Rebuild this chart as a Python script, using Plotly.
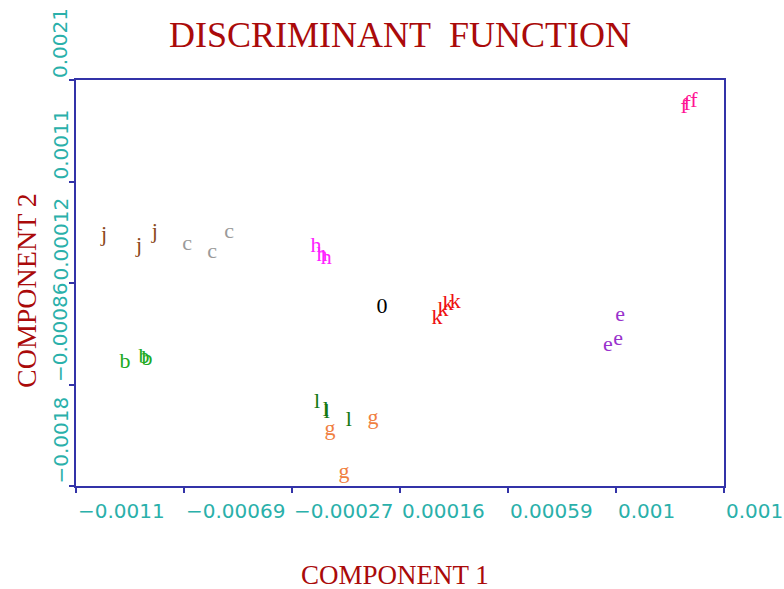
import plotly.graph_objects as go

# ---- axis ticks ----
X_TICKS = [-0.00112, -0.000693, -0.000266, 0.000161, 0.000588, 0.001015, 0.001442]
X_TICK_TEXT = ["\u22120.0011", "\u22120.00069", "\u22120.00027", "0.00016", "0.00059", "0.001", "0.0014"]
Y_TICKS = [-0.00184, -0.00086, 0.00012, 0.0011, 0.00208]
Y_TICK_TEXT = ["\u22120.0018", "\u22120.00086", "0.00012", "0.0011", "0.0021"]

# ---- data (component 1, component 2) per group letter ----
j_x = [-0.001009, -0.000871, -0.000808]
j_y = [0.000583, 0.000468, 0.000603]
c_x = [-0.000681, -0.000582, -0.000515]
c_y = [0.000487, 0.000419, 0.000612]
h_x = [-0.000171, -0.000147, -0.000131]
h_y = [0.000477, 0.000381, 0.000361]
o_x = [0.00009]
o_y = [-0.000121]
k_x = [0.000307, 0.000331, 0.000351, 0.000379]
k_y = [-0.000218, -0.00015, -0.000092, -0.000073]
e_x = [0.001031, 0.000983, 0.001023]
e_y = [-0.000189, -0.000488, -0.000421]
f_x = [0.001284, 0.001296, 0.001323]
f_y = [0.00181, 0.00184, 0.001868]
b_x = [-0.000926, -0.000851, -0.000839]
b_y = [-0.000652, -0.000604, -0.000614]
l_x = [-0.000167, -0.000132, -0.000128, -0.000041]
l_y = [-0.001029, -0.001115, -0.001135, -0.001203]
g_x = [-0.000116, 0.000054, -0.000060]
g_y = [-0.001299, -0.001193, -0.001714]

groups = [
    ("j", j_x, j_y, "#8b4a1c"),
    ("c", c_x, c_y, "#9a9a9a"),
    ("h", h_x, h_y, "#ff22ff"),
    ("0", o_x, o_y, "#000000"),
    ("k", k_x, k_y, "#ee1111"),
    ("e", e_x, e_y, "#9932cc"),
    ("f", f_x, f_y, "#ff1493"),
    ("b", b_x, b_y, "#22aa22"),
    ("l", l_x, l_y, "#117711"),
    ("g", g_x, g_y, "#f08040"),
]

fig = go.Figure()
for letter, xs, ys, col in groups:
    fig.add_trace(go.Scatter(
        x=xs, y=ys, mode="text", text=[letter] * len(xs),
        textposition="middle center",
        textfont=dict(family="Liberation Serif", size=22, color=col),
        showlegend=False, hoverinfo="skip",
    ))

AXC = "#3333a8"
TICKC = "#2ab0aa"
TITLEC = "#aa0a0a"

fig.update_xaxes(range=[X_TICKS[0], X_TICKS[-1]], tickvals=X_TICKS, showticklabels=False,
                 ticks="outside", ticklen=5, tickwidth=2, tickcolor=AXC,
                 showline=True, linecolor=AXC, linewidth=2, mirror=True,
                 showgrid=False, zeroline=False)
fig.update_yaxes(range=[Y_TICKS[0], Y_TICKS[-1]], tickvals=Y_TICKS, showticklabels=False,
                 ticks="outside", ticklen=5, tickwidth=2, tickcolor=AXC,
                 showline=True, linecolor=AXC, linewidth=2, mirror=True,
                 showgrid=False, zeroline=False)

ann = []
PW, PH = 648.0, 406.0
for v, t in zip(X_TICKS, X_TICK_TEXT):
    ann.append(dict(x=v, xref="x", y=-25 / PH, yref="paper", text=t, showarrow=False,
                    xanchor="left", yanchor="middle",
                    font=dict(family="DejaVu Sans", size=20, color=TICKC)))
for v, t in zip(Y_TICKS, Y_TICK_TEXT):
    ann.append(dict(x=-16 / PW, xref="paper", y=v, yref="y", text=t, showarrow=False,
                    textangle=-90, xanchor="center", yanchor="bottom",
                    font=dict(family="DejaVu Sans", size=20, color=TICKC)))
ann.append(dict(x=0.5, xref="paper", y=(80 - 35) / PH + 1, yref="paper",
                text="DISCRIMINANT&nbsp;&nbsp;FUNCTION", showarrow=False,
                xanchor="center", yanchor="middle",
                font=dict(family="Liberation Serif", size=36, color=TITLEC)))
ann.append(dict(x=(395 - 76) / PW, xref="paper", y=-(575 - 486) / PH, yref="paper",
                text="COMPONENT 1", showarrow=False, xanchor="center", yanchor="middle",
                font=dict(family="Liberation Serif", size=27, color=TITLEC)))
ann.append(dict(x=(26 - 76) / PW, xref="paper", y=(486 - 291) / PH, yref="paper",
                text="COMPONENT 2", showarrow=False, textangle=-90,
                xanchor="center", yanchor="middle",
                font=dict(family="Liberation Serif", size=28, color=TITLEC)))

fig.update_layout(width=784, height=589, autosize=False,
                  margin=dict(l=76, r=60, t=80, b=103),
                  paper_bgcolor="white", plot_bgcolor="white",
                  annotations=ann)

fig.write_html("out.html")
